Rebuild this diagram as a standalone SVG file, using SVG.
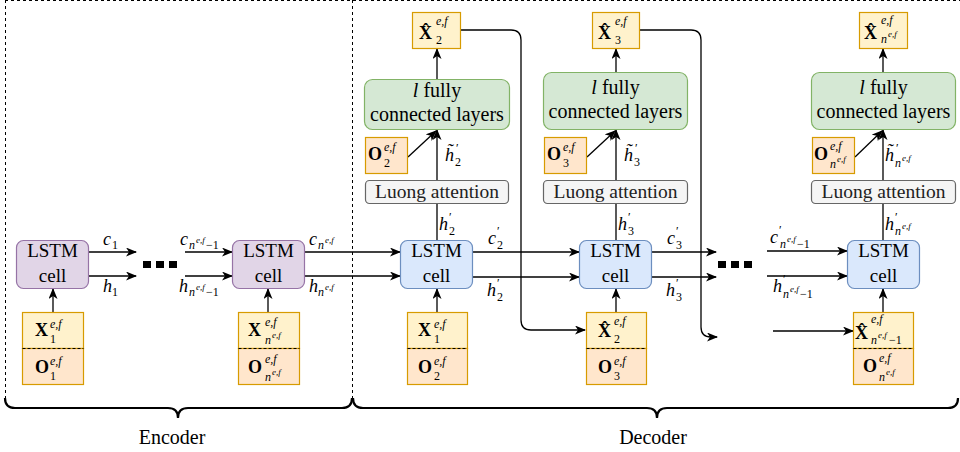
<svg xmlns="http://www.w3.org/2000/svg" width="960" height="452" viewBox="0 0 960 452">
<defs>
<marker id="ar" markerWidth="11" markerHeight="9" refX="10" refY="4.5" orient="auto" markerUnits="userSpaceOnUse">
<path d="M0,0 L11,4.5 L0,9 L3,4.5 z" fill="#000"/>
</marker>
<style>
text { font-family: "Liberation Serif", "DejaVu Serif", serif; fill:#000; }
.i { font-style: italic; }
.b { font-weight: bold; }
.lab { font-size: 19px; text-anchor: middle; }
.fc { font-size: 20px; text-anchor: middle; }
.big { font-size: 18px; }
.sm { font-size: 12px; }
.pr { font-size: 12px; }
.xs { font-size: 9px; }
.lu { font-size: 19.5px; text-anchor: middle; fill:#222; }
.purple { fill:#e1d5e7; stroke:#9673a6; stroke-width:1.2; }
.blue { fill:#dae8fc; stroke:#6c8ebf; stroke-width:1.2; }
.green { fill:#d5e8d4; stroke:#82b366; stroke-width:1.2; }
.grey { fill:#f5f5f5; stroke:#666666; stroke-width:1.2; }
.yel { fill:#fff2cc; stroke:#d79b00; stroke-width:1.2; }
.ora { fill:#ffe6cc; stroke:#d79b00; stroke-width:1.2; }
.div { stroke:#000; stroke-width:1; stroke-dasharray:3 2; }
.c { fill:none; stroke:#000; stroke-width:1.3; }
.frame { fill:none; stroke:#000; stroke-width:1; stroke-dasharray:3 3; }
.brace { fill:none; stroke:#000; stroke-width:2.2; }
</style>
</defs>
<rect width="960" height="452" fill="#fff"/>

<g id="frame">
<line class="frame" x1="5" y1="0.5" x2="960" y2="0.5" stroke="#777"/>
<line class="frame" x1="5.5" y1="0" x2="5.5" y2="398"/>
<line class="frame" x1="352.5" y1="0" x2="352.5" y2="400"/>
</g>

<g id="connectors">
<line class="c" x1="53" y1="312" x2="53" y2="289" marker-end="url(#ar)"/>
<line class="c" x1="268" y1="312" x2="268" y2="289" marker-end="url(#ar)"/>
<line class="c" x1="89" y1="252" x2="136" y2="252" marker-end="url(#ar)"/>
<line class="c" x1="89" y1="276" x2="136" y2="276" marker-end="url(#ar)"/>
<line class="c" x1="185" y1="252" x2="232" y2="252" marker-end="url(#ar)"/>
<line class="c" x1="185" y1="276" x2="232" y2="276" marker-end="url(#ar)"/>
<line class="c" x1="305" y1="252" x2="400" y2="252" marker-end="url(#ar)"/>
<line class="c" x1="305" y1="276" x2="400" y2="276" marker-end="url(#ar)"/>
<line class="c" x1="437" y1="312" x2="437" y2="289" marker-end="url(#ar)"/>
<line class="c" x1="437" y1="240" x2="437" y2="181" marker-end="url(#ar)"/>
<line class="c" x1="437" y1="180" x2="437" y2="130" marker-end="url(#ar)"/>
<line class="c" x1="408" y1="157" x2="436" y2="131" marker-end="url(#ar)"/>
<line class="c" x1="437" y1="79" x2="437" y2="49" marker-end="url(#ar)"/>
<path class="c" d="M461,30 L511,30 Q521,30 521,40 L521,320 Q521,330 531,330 L585,330" marker-end="url(#ar)"/>
<line class="c" x1="473" y1="252" x2="579" y2="252" marker-end="url(#ar)"/>
<line class="c" x1="473" y1="277" x2="579" y2="277" marker-end="url(#ar)"/>
<line class="c" x1="616" y1="312" x2="616" y2="289" marker-end="url(#ar)"/>
<line class="c" x1="616" y1="240" x2="616" y2="181" marker-end="url(#ar)"/>
<line class="c" x1="616" y1="180" x2="616" y2="130" marker-end="url(#ar)"/>
<line class="c" x1="587" y1="157" x2="615" y2="131" marker-end="url(#ar)"/>
<line class="c" x1="616" y1="72" x2="616" y2="49" marker-end="url(#ar)"/>
<path class="c" d="M640,30 L691,30 Q701,30 701,40 L701,327 Q701,337 711,337 L717,337" marker-end="url(#ar)"/>
<line class="c" x1="652" y1="252" x2="716" y2="252" marker-end="url(#ar)"/>
<line class="c" x1="652" y1="277" x2="716" y2="277" marker-end="url(#ar)"/>
<line class="c" x1="767" y1="251" x2="847" y2="251" marker-end="url(#ar)"/>
<line class="c" x1="767" y1="276" x2="847" y2="276" marker-end="url(#ar)"/>
<line class="c" x1="773" y1="331" x2="853" y2="331" marker-end="url(#ar)"/>
<line class="c" x1="883" y1="312" x2="883" y2="289" marker-end="url(#ar)"/>
<line class="c" x1="883" y1="240" x2="883" y2="181" marker-end="url(#ar)"/>
<line class="c" x1="883" y1="180" x2="883" y2="130" marker-end="url(#ar)"/>
<line class="c" x1="855" y1="157" x2="882" y2="131" marker-end="url(#ar)"/>
<line class="c" x1="883" y1="72" x2="883" y2="49" marker-end="url(#ar)"/>
</g>

<g id="edge-labels">
<text><tspan class="i big" x="103" y="245">c</tspan><tspan class="sm" x="112" y="249">1</tspan></text>
<text><tspan class="i big" x="103" y="292">h</tspan><tspan class="sm" x="112" y="296">1</tspan></text>
<text><tspan class="i big" x="180" y="245">c</tspan><tspan class="i sm" x="189" y="249">n</tspan><tspan class="i xs" x="196" y="243">e,f</tspan><tspan class="sm" x="206" y="249">−1</tspan></text>
<text><tspan class="i big" x="179" y="292">h</tspan><tspan class="i sm" x="189" y="296">n</tspan><tspan class="i xs" x="196" y="290">e,f</tspan><tspan class="sm" x="206" y="296">−1</tspan></text>
<text><tspan class="i big" x="309" y="245">c</tspan><tspan class="i sm" x="318" y="249">n</tspan><tspan class="i xs" x="325" y="243">e,f</tspan></text>
<text><tspan class="i big" x="309" y="292">h</tspan><tspan class="i sm" x="318" y="296">n</tspan><tspan class="i xs" x="325" y="290">e,f</tspan></text>
<text><tspan class="i big" x="439" y="230">h</tspan><tspan class="pr" x="449" y="221">′</tspan><tspan class="sm" x="449" y="235">2</tspan></text>
<text><tspan class="i big" x="445" y="161">h̃</tspan><tspan class="pr" x="456" y="152">′</tspan><tspan class="sm" x="455" y="166">2</tspan></text>
<text><tspan class="i big" x="488" y="244">c</tspan><tspan class="pr" x="497" y="235">′</tspan><tspan class="sm" x="497" y="249">2</tspan></text>
<text><tspan class="i big" x="487" y="296">h</tspan><tspan class="pr" x="497" y="287">′</tspan><tspan class="sm" x="497" y="301">2</tspan></text>
<text><tspan class="i big" x="618" y="230">h</tspan><tspan class="pr" x="628" y="221">′</tspan><tspan class="sm" x="628" y="235">3</tspan></text>
<text><tspan class="i big" x="624" y="161">h̃</tspan><tspan class="pr" x="635" y="152">′</tspan><tspan class="sm" x="634" y="166">3</tspan></text>
<text><tspan class="i big" x="667" y="244">c</tspan><tspan class="pr" x="676" y="235">′</tspan><tspan class="sm" x="676" y="249">3</tspan></text>
<text><tspan class="i big" x="666" y="296">h</tspan><tspan class="pr" x="676" y="287">′</tspan><tspan class="sm" x="676" y="301">3</tspan></text>
<text><tspan class="i big" x="770" y="243">c</tspan><tspan class="pr" x="779" y="234">′</tspan><tspan class="i sm" x="780" y="248">n</tspan><tspan class="i xs" x="787" y="242">e,f</tspan><tspan class="sm" x="797" y="248">−1</tspan></text>
<text><tspan class="i big" x="773" y="292">h</tspan><tspan class="pr" x="783" y="283">′</tspan><tspan class="i sm" x="783" y="298">n</tspan><tspan class="i xs" x="790" y="292">e,f</tspan><tspan class="sm" x="800" y="298">−1</tspan></text>
<text><tspan class="i big" x="885" y="230">h</tspan><tspan class="pr" x="895" y="221">′</tspan><tspan class="i sm" x="895" y="235">n</tspan><tspan class="i xs" x="902" y="229">e,f</tspan></text>
<text><tspan class="i big" x="885" y="161">h̃</tspan><tspan class="pr" x="896" y="152">′</tspan><tspan class="i sm" x="895" y="167">n</tspan><tspan class="i xs" x="902" y="161">e,f</tspan></text>
</g>

<g id="dots">
<rect x="143" y="261" width="8" height="7"/><rect x="156" y="261" width="8" height="7"/><rect x="169" y="261" width="8" height="7"/>
<rect x="718" y="261" width="8" height="7"/><rect x="731" y="261" width="8" height="7"/><rect x="744" y="261" width="8" height="7"/>
</g>

<g id="enc-lstm-1">
<rect class="purple" x="16.5" y="240.5" width="72" height="48" rx="7"/>
<text class="lab"><tspan x="52.5" y="257">LSTM</tspan><tspan x="52.5" y="282">cell</tspan></text>
</g>
<g id="enc-lstm-n">
<rect class="purple" x="232.5" y="240.5" width="72" height="48" rx="7"/>
<text class="lab"><tspan x="268.5" y="257">LSTM</tspan><tspan x="268.5" y="282">cell</tspan></text>
</g>
<g id="enc-in-1">
<rect class="yel" x="22.5" y="312.5" width="61" height="36"/>
<rect class="ora" x="22.5" y="348.5" width="61" height="36"/>
<line class="div" x1="22.5" y1="348.5" x2="83.5" y2="348.5"/>
<text><tspan class="b big" x="35" y="336">X</tspan><tspan class="i sm" x="50" y="328">e,f</tspan><tspan class="sm" x="50" y="343">1</tspan></text>
<text><tspan class="b big" x="35" y="373">O</tspan><tspan class="i sm" x="50" y="365">e,f</tspan><tspan class="sm" x="50" y="380">1</tspan></text>
</g>
<g id="enc-in-n">
<rect class="yel" x="238.5" y="312.5" width="61" height="36"/>
<rect class="ora" x="238.5" y="348.5" width="61" height="36"/>
<line class="div" x1="238.5" y1="348.5" x2="299.5" y2="348.5"/>
<text><tspan class="b big" x="248" y="336">X</tspan><tspan class="i sm" x="265" y="326">e,f</tspan><tspan class="i sm" x="265" y="344">n</tspan><tspan class="i xs" x="272" y="338">e,f</tspan></text>
<text><tspan class="b big" x="248" y="373">O</tspan><tspan class="i sm" x="265" y="363">e,f</tspan><tspan class="i sm" x="265" y="381">n</tspan><tspan class="i xs" x="272" y="375">e,f</tspan></text>
</g>

<g id="dec-lstm-2">
<rect class="blue" x="400.5" y="240.5" width="72" height="48" rx="7"/>
<text class="lab"><tspan x="436.5" y="257">LSTM</tspan><tspan x="436.5" y="282">cell</tspan></text>
</g>
<g id="dec-in-2">
<rect class="yel" x="407.5" y="312.5" width="60" height="36"/>
<rect class="ora" x="407.5" y="348.5" width="60" height="36"/>
<line class="div" x1="407.5" y1="348.5" x2="467.5" y2="348.5"/>
<text><tspan class="b big" x="418" y="336">X</tspan><tspan class="i sm" x="434" y="328">e,f</tspan><tspan class="sm" x="434" y="343">1</tspan></text>
<text><tspan class="b big" x="418" y="373">O</tspan><tspan class="i sm" x="434" y="365">e,f</tspan><tspan class="sm" x="434" y="380">2</tspan></text>
</g>
<g id="dec-att-2">
<rect class="grey" x="365.5" y="180.5" width="143" height="23" rx="4"/>
<text class="lu" x="437" y="198">Luong attention</text>
</g>
<g id="dec-o-2">
<rect class="ora" x="365.5" y="137.5" width="42" height="36"/>
<text><tspan class="b big" x="368" y="160">O</tspan><tspan class="i sm" x="384" y="151">e,f</tspan><tspan class="sm" x="384" y="167">2</tspan></text>
</g>
<g id="dec-fc-2">
<rect class="green" x="364.5" y="79.5" width="145" height="50" rx="8"/>
<text class="fc" x="437" y="97"><tspan class="i">l</tspan> fully</text>
<text class="fc" x="437" y="121">connected layers</text>
</g>
<g id="dec-out-2">
<rect class="yel" x="412.5" y="12.5" width="48" height="36"/>
<text><tspan class="b big" x="419" y="39">X̂</tspan><tspan class="i sm" x="436" y="25">e,f</tspan><tspan class="sm" x="436" y="44">2</tspan></text>
</g>

<g id="dec-lstm-3">
<rect class="blue" x="579.5" y="240.5" width="72" height="48" rx="7"/>
<text class="lab"><tspan x="615.5" y="257">LSTM</tspan><tspan x="615.5" y="282">cell</tspan></text>
</g>
<g id="dec-in-3">
<rect class="yel" x="586.5" y="312.5" width="60" height="36"/>
<rect class="ora" x="586.5" y="348.5" width="60" height="36"/>
<line class="div" x1="586.5" y1="348.5" x2="646.5" y2="348.5"/>
<text><tspan class="b big" x="598" y="337">X̂</tspan><tspan class="i sm" x="614" y="325">e,f</tspan><tspan class="sm" x="614" y="343">2</tspan></text>
<text><tspan class="b big" x="598" y="373">O</tspan><tspan class="i sm" x="614" y="365">e,f</tspan><tspan class="sm" x="614" y="380">3</tspan></text>
</g>
<g id="dec-att-3">
<rect class="grey" x="543.5" y="180.5" width="144" height="23" rx="4"/>
<text class="lu" x="615.5" y="198">Luong attention</text>
</g>
<g id="dec-o-3">
<rect class="ora" x="544.5" y="137.5" width="42" height="36"/>
<text><tspan class="b big" x="547" y="160">O</tspan><tspan class="i sm" x="563" y="151">e,f</tspan><tspan class="sm" x="563" y="167">3</tspan></text>
</g>
<g id="dec-fc-3">
<rect class="green" x="543.5" y="72.5" width="144" height="57" rx="8"/>
<text class="fc" x="615.5" y="94"><tspan class="i">l</tspan> fully</text>
<text class="fc" x="615.5" y="118">connected layers</text>
</g>
<g id="dec-out-3">
<rect class="yel" x="592.5" y="12.5" width="47" height="36"/>
<text><tspan class="b big" x="598" y="39">X̂</tspan><tspan class="i sm" x="615" y="25">e,f</tspan><tspan class="sm" x="615" y="44">3</tspan></text>
</g>

<g id="dec-lstm-n">
<rect class="blue" x="847.5" y="240.5" width="72" height="48" rx="7"/>
<text class="lab"><tspan x="883.5" y="257">LSTM</tspan><tspan x="883.5" y="282">cell</tspan></text>
</g>
<g id="dec-in-n">
<rect class="yel" x="853.5" y="312.5" width="60" height="36"/>
<rect class="ora" x="853.5" y="348.5" width="60" height="36"/>
<line class="div" x1="853.5" y1="348.5" x2="913.5" y2="348.5"/>
<text><tspan class="b big" x="855" y="339">X̂</tspan><tspan class="i sm" x="871" y="323">e,f</tspan><tspan class="i sm" x="871" y="344">n</tspan><tspan class="i xs" x="878" y="338">e,f</tspan><tspan class="sm" x="889" y="344">−1</tspan></text>
<text><tspan class="b big" x="863" y="372">O</tspan><tspan class="i sm" x="879" y="362">e,f</tspan><tspan class="i sm" x="879" y="381">n</tspan><tspan class="i xs" x="886" y="375">e,f</tspan></text>
</g>
<g id="dec-att-n">
<rect class="grey" x="811.5" y="180.5" width="144" height="23" rx="4"/>
<text class="lu" x="883.5" y="198">Luong attention</text>
</g>
<g id="dec-o-n">
<rect class="ora" x="812.5" y="137.5" width="42" height="36"/>
<text><tspan class="b big" x="814" y="160">O</tspan><tspan class="i sm" x="830" y="150">e,f</tspan><tspan class="i sm" x="830" y="168">n</tspan><tspan class="i xs" x="837" y="162">e,f</tspan></text>
</g>
<g id="dec-fc-n">
<rect class="green" x="811.5" y="72.5" width="144" height="57" rx="8"/>
<text class="fc" x="883.5" y="94"><tspan class="i">l</tspan> fully</text>
<text class="fc" x="883.5" y="118">connected layers</text>
</g>
<g id="dec-out-n">
<rect class="yel" x="859.5" y="12.5" width="48" height="36"/>
<text><tspan class="b big" x="864" y="39">X̂</tspan><tspan class="i sm" x="881" y="24">e,f</tspan><tspan class="i sm" x="881" y="43">n</tspan><tspan class="i xs" x="888" y="37">e,f</tspan></text>
</g>

<g id="braces">
<path class="brace" d="M5,398 Q5,408 15,408 L168,408 Q178,408 178,418 Q178,408 188,408 L342,408 Q352,408 352,398"/>
<path class="brace" d="M353,398 Q353,408 363,408 L647,408 Q657,408 657,418 Q657,408 667,408 L948,408 Q958,408 958,398"/>
<text class="fc" x="172" y="444">Encoder</text>
<text class="fc" x="653" y="444">Decoder</text>
</g>
</svg>
